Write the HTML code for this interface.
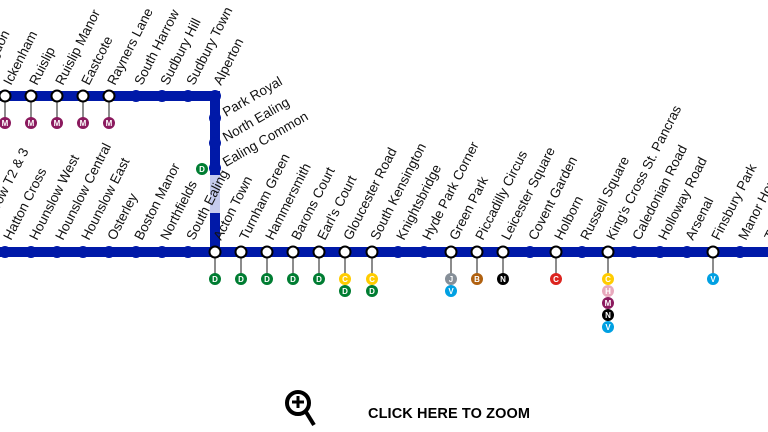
<!DOCTYPE html>
<html><head><meta charset="utf-8"><style>
html,body{margin:0;padding:0;background:#fff;}
svg{display:block;}
.l{font-family:"Liberation Sans",Arial,sans-serif;font-size:13.5px;fill:#111;}
.b{font-family:"Liberation Sans",Arial,sans-serif;font-size:8px;font-weight:bold;fill:#fff;text-anchor:middle;}
</style></head><body>
<svg width="768" height="432" viewBox="0 0 768 432" xmlns="http://www.w3.org/2000/svg">
<defs>
<g id="st"><circle r="5.5" fill="#fff" stroke="#000" stroke-width="2"/></g>
<g id="bd"><circle r="6" fill="#0019a8"/></g>
</defs>
<rect x="210" y="175" width="10" height="39" fill="#c5cbee"/>
<path d="M-10 96 H215 V175" fill="none" stroke="#0019a8" stroke-width="10"/>
<path d="M215 213 V252" fill="none" stroke="#0019a8" stroke-width="10"/>
<path d="M-10 252 H778" fill="none" stroke="#0019a8" stroke-width="10"/>
<g stroke="#666" stroke-width="1.5">
<line x1="5" y1="96" x2="5" y2="122"/><line x1="31" y1="96" x2="31" y2="122"/><line x1="57" y1="96" x2="57" y2="122"/><line x1="83" y1="96" x2="83" y2="122"/><line x1="109" y1="96" x2="109" y2="122"/>
<line x1="215" y1="252" x2="215" y2="279"/><line x1="241" y1="252" x2="241" y2="279"/><line x1="267" y1="252" x2="267" y2="279"/><line x1="293" y1="252" x2="293" y2="279"/><line x1="319" y1="252" x2="319" y2="279"/><line x1="345" y1="252" x2="345" y2="279"/><line x1="372" y1="252" x2="372" y2="279"/>
<line x1="451" y1="252" x2="451" y2="279"/><line x1="477" y1="252" x2="477" y2="279"/><line x1="503" y1="252" x2="503" y2="279"/><line x1="556" y1="252" x2="556" y2="279"/><line x1="608" y1="252" x2="608" y2="279"/><line x1="713" y1="252" x2="713" y2="279"/>
</g>
<use href="#st" x="5" y="96"/><use href="#st" x="31" y="96"/><use href="#st" x="57" y="96"/><use href="#st" x="83" y="96"/><use href="#st" x="109" y="96"/>
<use href="#bd" x="136" y="96"/><use href="#bd" x="162" y="96"/><use href="#bd" x="188" y="96"/><use href="#bd" x="215" y="96"/>
<use href="#bd" x="215" y="118"/><use href="#bd" x="215" y="143"/><use href="#bd" x="215" y="168"/>
<use href="#bd" x="5" y="252"/><use href="#bd" x="31" y="252"/><use href="#bd" x="57" y="252"/><use href="#bd" x="83" y="252"/><use href="#bd" x="109" y="252"/><use href="#bd" x="136" y="252"/><use href="#bd" x="162" y="252"/><use href="#bd" x="188" y="252"/>
<use href="#st" x="215" y="252"/><use href="#st" x="241" y="252"/><use href="#st" x="267" y="252"/><use href="#st" x="293" y="252"/><use href="#st" x="319" y="252"/><use href="#st" x="345" y="252"/><use href="#st" x="372" y="252"/>
<use href="#bd" x="398" y="252"/><use href="#bd" x="424" y="252"/>
<use href="#st" x="451" y="252"/><use href="#st" x="477" y="252"/><use href="#st" x="503" y="252"/>
<use href="#bd" x="530" y="252"/><use href="#st" x="556" y="252"/><use href="#bd" x="582" y="252"/><use href="#st" x="608" y="252"/>
<use href="#bd" x="634" y="252"/><use href="#bd" x="660" y="252"/><use href="#bd" x="687" y="252"/><use href="#st" x="713" y="252"/><use href="#bd" x="740" y="252"/>
<g>
<circle cx="5" cy="123" r="6" fill="#8b1a5e"/><text class="b" x="5" y="126">M</text>
<circle cx="31" cy="123" r="6" fill="#8b1a5e"/><text class="b" x="31" y="126">M</text>
<circle cx="57" cy="123" r="6" fill="#8b1a5e"/><text class="b" x="57" y="126">M</text>
<circle cx="83" cy="123" r="6" fill="#8b1a5e"/><text class="b" x="83" y="126">M</text>
<circle cx="109" cy="123" r="6" fill="#8b1a5e"/><text class="b" x="109" y="126">M</text>
<circle cx="202" cy="169" r="6" fill="#007d32"/><text class="b" x="202" y="172">D</text>
<circle cx="215" cy="279" r="6" fill="#007d32"/><text class="b" x="215" y="282">D</text>
<circle cx="241" cy="279" r="6" fill="#007d32"/><text class="b" x="241" y="282">D</text>
<circle cx="267" cy="279" r="6" fill="#007d32"/><text class="b" x="267" y="282">D</text>
<circle cx="293" cy="279" r="6" fill="#007d32"/><text class="b" x="293" y="282">D</text>
<circle cx="319" cy="279" r="6" fill="#007d32"/><text class="b" x="319" y="282">D</text>
<circle cx="345" cy="279" r="6" fill="#ffcc00"/><text class="b" x="345" y="282">C</text>
<circle cx="345" cy="291" r="6" fill="#007d32"/><text class="b" x="345" y="294">D</text>
<circle cx="372" cy="279" r="6" fill="#ffcc00"/><text class="b" x="372" y="282">C</text>
<circle cx="372" cy="291" r="6" fill="#007d32"/><text class="b" x="372" y="294">D</text>
<circle cx="451" cy="279" r="6" fill="#868f98"/><text class="b" x="451" y="282">J</text>
<circle cx="451" cy="291" r="6" fill="#00a0e2"/><text class="b" x="451" y="294">V</text>
<circle cx="477" cy="279" r="6" fill="#b06110"/><text class="b" x="477" y="282">B</text>
<circle cx="503" cy="279" r="6" fill="#000"/><text class="b" x="503" y="282">N</text>
<circle cx="556" cy="279" r="6" fill="#dc241f"/><text class="b" x="556" y="282">C</text>
<circle cx="608" cy="279" r="6" fill="#ffcc00"/><text class="b" x="608" y="282">C</text>
<circle cx="608" cy="291" r="6" fill="#e8a9bd"/><text class="b" x="608" y="294">H</text>
<circle cx="608" cy="303" r="6" fill="#8b1a5e"/><text class="b" x="608" y="306">M</text>
<circle cx="608" cy="315" r="6" fill="#000"/><text class="b" x="608" y="318">N</text>
<circle cx="608" cy="327" r="6" fill="#00a0e2"/><text class="b" x="608" y="330">V</text>
<circle cx="713" cy="279" r="6" fill="#00a0e2"/><text class="b" x="713" y="282">V</text>
</g>
<g class="l">
<text transform="translate(-17,86) rotate(-63)">Hillingdon</text>
<text transform="translate(11,86) rotate(-63)">Ickenham</text>
<text transform="translate(37,86) rotate(-63)">Ruislip</text>
<text transform="translate(63,86) rotate(-63)">Ruislip Manor</text>
<text transform="translate(89,86) rotate(-63)">Eastcote</text>
<text transform="translate(115,86) rotate(-63)">Rayners Lane</text>
<text transform="translate(142,86) rotate(-63)">South Harrow</text>
<text transform="translate(168,86) rotate(-63)">Sudbury Hill</text>
<text transform="translate(194,86) rotate(-63)">Sudbury Town</text>
<text transform="translate(221,86) rotate(-63)">Alperton</text>
<text transform="translate(226,117) rotate(-30)">Park Royal</text>
<text transform="translate(226,142) rotate(-30)">North Ealing</text>
<text transform="translate(226,167) rotate(-30)">Ealing Common</text>
</g>
<g class="l">
<text transform="translate(-17,241) rotate(-63)">Heathrow T2 &amp; 3</text>
<text transform="translate(11,241) rotate(-63)">Hatton Cross</text>
<text transform="translate(37,241) rotate(-63)">Hounslow West</text>
<text transform="translate(63,241) rotate(-63)">Hounslow Central</text>
<text transform="translate(89,241) rotate(-63)">Hounslow East</text>
<text transform="translate(115,241) rotate(-63)">Osterley</text>
<text transform="translate(142,241) rotate(-63)">Boston Manor</text>
<text transform="translate(168,241) rotate(-63)">Northfields</text>
<text transform="translate(194,241) rotate(-63)">South Ealing</text>
<text transform="translate(221,241) rotate(-63)">Acton Town</text>
<text transform="translate(247,241) rotate(-63)">Turnham Green</text>
<text transform="translate(273,241) rotate(-63)">Hammersmith</text>
<text transform="translate(299,241) rotate(-63)">Barons Court</text>
<text transform="translate(325,241) rotate(-63)">Earl's Court</text>
<text transform="translate(351,241) rotate(-63)">Gloucester Road</text>
<text transform="translate(378,241) rotate(-63)">South Kensington</text>
<text transform="translate(404,241) rotate(-63)">Knightsbridge</text>
<text transform="translate(430,241) rotate(-63)">Hyde Park Corner</text>
<text transform="translate(457,241) rotate(-63)">Green Park</text>
<text transform="translate(483,241) rotate(-63)">Piccadilly Circus</text>
<text transform="translate(509,241) rotate(-63)">Leicester Square</text>
<text transform="translate(536,241) rotate(-63)">Covent Garden</text>
<text transform="translate(562,241) rotate(-63)">Holborn</text>
<text transform="translate(588,241) rotate(-63)">Russell Square</text>
<text transform="translate(614,241) rotate(-63)">King's Cross St. Pancras</text>
<text transform="translate(640,241) rotate(-63)">Caledonian Road</text>
<text transform="translate(666,241) rotate(-63)">Holloway Road</text>
<text transform="translate(693,241) rotate(-63)">Arsenal</text>
<text transform="translate(719,241) rotate(-63)">Finsbury Park</text>
<text transform="translate(746,241) rotate(-63)">Manor House</text>
<text transform="translate(772,241) rotate(-63)">Turnpike Lane</text>
</g>
<circle cx="298" cy="403" r="11" fill="none" stroke="#000" stroke-width="4"/>
<line x1="292" y1="402" x2="304" y2="402" stroke="#000" stroke-width="3"/>
<line x1="298" y1="396" x2="298" y2="408" stroke="#000" stroke-width="3"/>
<line x1="306" y1="412" x2="314" y2="425" stroke="#000" stroke-width="4"/>
<text x="368" y="418" font-family="Liberation Sans, Arial, sans-serif" font-weight="bold" font-size="14.5" textLength="162" fill="#000">CLICK HERE TO ZOOM</text>
</svg>
</body></html>
